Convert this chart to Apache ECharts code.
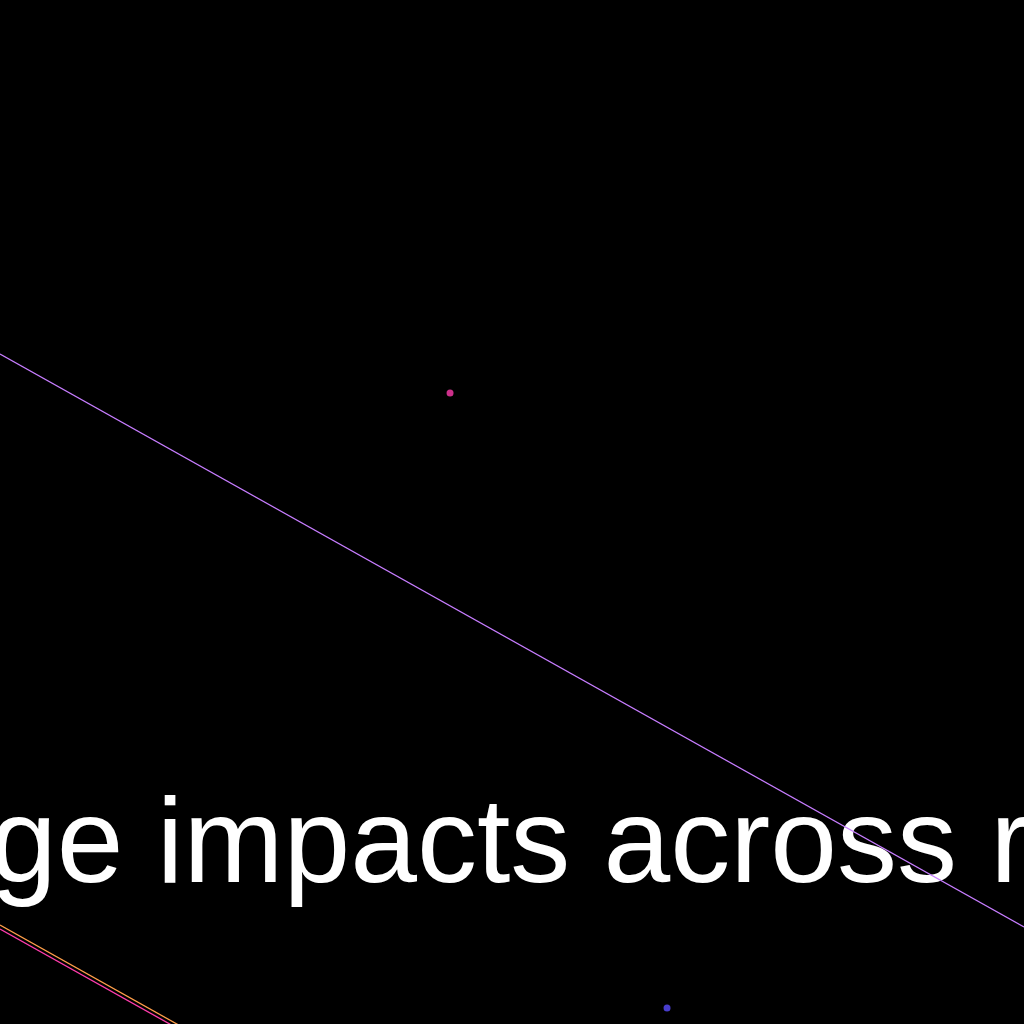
<!DOCTYPE html>
<html>
<head>
<meta charset="utf-8">
<style>html,body{margin:0;padding:0;background:#000;}#c{width:1024px;height:1024px;}</style>
<script src="https://cdn.jsdelivr.net/npm/echarts@6/dist/echarts.min.js"></script>
</head>
<body>
<div id="c"></div>
<script>
var titleText = 'ge impacts across r';
var purpleLine = [[0, 65.43], [100, 9.47]];
var orangeLine = [[0, 9.67], [20, -1.53]];
var pinkLine = [[0, 9.28], [20, -1.92]];
var pinkPoint = [[43.95, 61.62]];
var bluePoint = [[65.14, 1.56]];

var chart = echarts.init(document.getElementById('c'));
chart.setOption({
  backgroundColor: '#000000',
  animation: false,
  title: {
    text: titleText,
    left: -15,
    top: 784,
    z: 1,
    textStyle: { color: '#ffffff', fontSize: 120, fontWeight: 'normal', fontFamily: 'Liberation Sans, Arial, sans-serif' }
  },
  grid: { left: 0, right: 0, top: 0, bottom: 0 },
  xAxis: { type: 'value', min: 0, max: 100, show: false },
  yAxis: { type: 'value', min: 0, max: 100, show: false },
  series: [
    { type: 'line', data: purpleLine, symbol: 'none', z: 3, lineStyle: { color: '#c77dff', width: 1.3 } },
    { type: 'line', data: orangeLine, symbol: 'none', z: 3, lineStyle: { color: '#ff9f4a', width: 1.3 } },
    { type: 'line', data: pinkLine, symbol: 'none', z: 3, lineStyle: { color: '#ff3cac', width: 1.3 } },
    { type: 'scatter', data: pinkPoint, symbol: 'circle', symbolSize: 7, z: 3, itemStyle: { color: '#ff3cac' } },
    { type: 'scatter', data: bluePoint, symbol: 'circle', symbolSize: 7, z: 3, itemStyle: { color: '#5a4cff' } }
  ]
});
</script>
</body>
</html>
